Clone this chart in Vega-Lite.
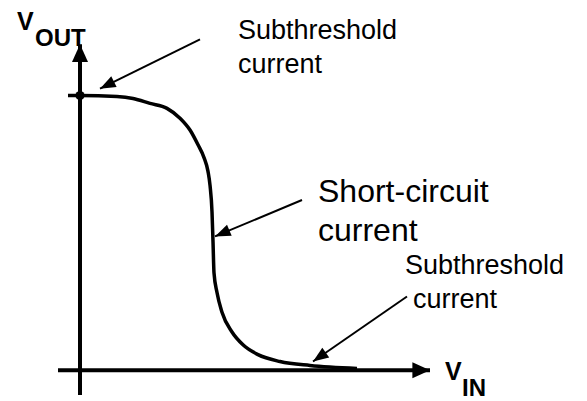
{
  "$schema": "https://vega.github.io/schema/vega-lite/v6.json",
  "width": 587,
  "height": 401,
  "autosize": {"type": "fit", "contains": "padding"},
  "padding": 0,
  "background": "white",
  "config": {"view": {"stroke": null}},
  "datasets": {
    "curve": [
      {"vin": -12, "vout": 279},
      {"vin": 0, "vout": 279},
      {"vin": 37, "vout": 278},
      {"vin": 53, "vout": 276},
      {"vin": 70, "vout": 271},
      {"vin": 87, "vout": 266},
      {"vin": 100, "vout": 256},
      {"vin": 110, "vout": 244},
      {"vin": 118, "vout": 229},
      {"vin": 124, "vout": 216},
      {"vin": 128, "vout": 202},
      {"vin": 130, "vout": 188},
      {"vin": 132, "vout": 161},
      {"vin": 133, "vout": 131},
      {"vin": 134, "vout": 99},
      {"vin": 137, "vout": 79},
      {"vin": 142, "vout": 59},
      {"vin": 152, "vout": 39},
      {"vin": 163, "vout": 26},
      {"vin": 178, "vout": 16},
      {"vin": 200, "vout": 9},
      {"vin": 230, "vout": 5},
      {"vin": 277, "vout": 2}
    ],
    "dot": [{"vin": 0, "vout": 279}],
    "arrows": [
      {"kind": "axis", "x": 0, "y": -25, "x2": 0, "y2": 331},
      {"kind": "axis", "x": -22, "y": 0, "x2": 350, "y2": 0},
      {"kind": "note", "x": 120, "y": 336, "x2": 20, "y2": 286},
      {"kind": "note", "x": 222, "y": 173, "x2": 135, "y2": 136},
      {"kind": "note", "x": 327, "y": 75, "x2": 233, "y2": 9}
    ],
    "labels": [
      {"role": "axis", "text": "V", "x": -63, "y": 346},
      {"role": "axissub", "text": "OUT", "x": -45, "y": 329},
      {"role": "axis", "text": "V", "x": 365, "y": -10},
      {"role": "axissub", "text": "IN", "x": 382, "y": -26},
      {"role": "note", "text": "Subthreshold", "x": 158, "y": 336},
      {"role": "note", "text": "current", "x": 158, "y": 302},
      {"role": "main", "text": "Short-circuit", "x": 238, "y": 171},
      {"role": "main", "text": "current", "x": 238, "y": 131},
      {"role": "note", "text": "Subthreshold", "x": 325, "y": 98},
      {"role": "note", "text": "current", "x": 333, "y": 63}
    ]
  },
  "encoding": {
    "x": {"field": "x", "type": "quantitative", "scale": {"domain": [-80, 507], "nice": false, "zero": false}, "axis": null},
    "y": {"field": "y", "type": "quantitative", "scale": {"domain": [-25, 376], "nice": false, "zero": false}, "axis": null}
  },
  "layer": [
    {
      "data": {"name": "arrows"},
      "transform": [{"filter": "datum.kind == 'axis'"}],
      "mark": {"type": "rule", "color": "black", "strokeWidth": 4},
      "encoding": {
        "x2": {"field": "x2"},
        "y2": {"field": "y2"}
      }
    },
    {
      "data": {"name": "arrows"},
      "transform": [{"filter": "datum.kind == 'note'"}],
      "mark": {"type": "rule", "color": "black", "strokeWidth": 2},
      "encoding": {
        "x2": {"field": "x2"},
        "y2": {"field": "y2"}
      }
    },
    {
      "data": {"name": "arrows"},
      "transform": [
        {"filter": "datum.kind == 'axis'"},
        {"calculate": "atan2(datum.x2 - datum.x, datum.y2 - datum.y) * 180 / PI", "as": "heading"}
      ],
      "mark": {"type": "point", "shape": "M0,0L-1,2.2L1,2.2Z", "filled": true, "color": "black", "opacity": 1, "strokeWidth": 0, "size": 256},
      "encoding": {
        "x": {"field": "x2", "type": "quantitative"},
        "y": {"field": "y2", "type": "quantitative"},
        "angle": {"field": "heading", "type": "quantitative", "scale": null}
      }
    },
    {
      "data": {"name": "arrows"},
      "transform": [
        {"filter": "datum.kind == 'note'"},
        {"calculate": "atan2(datum.x2 - datum.x, datum.y2 - datum.y) * 180 / PI", "as": "heading"}
      ],
      "mark": {"type": "point", "shape": "M0,0L-1,2.6L1,2.6Z", "filled": true, "color": "black", "opacity": 1, "strokeWidth": 0, "size": 144},
      "encoding": {
        "x": {"field": "x2", "type": "quantitative"},
        "y": {"field": "y2", "type": "quantitative"},
        "angle": {"field": "heading", "type": "quantitative", "scale": null}
      }
    },
    {
      "data": {"name": "curve"},
      "mark": {"type": "line", "color": "black", "strokeWidth": 3.5, "interpolate": "monotone", "strokeJoin": "round"},
      "encoding": {
        "x": {"field": "vin", "type": "quantitative"},
        "y": {"field": "vout", "type": "quantitative"},
        "order": {"value": null}
      }
    },
    {
      "data": {"name": "dot"},
      "mark": {"type": "point", "shape": "circle", "filled": true, "color": "black", "opacity": 1, "size": 85},
      "encoding": {
        "x": {"field": "vin", "type": "quantitative"},
        "y": {"field": "vout", "type": "quantitative"}
      }
    },
    {
      "data": {"name": "labels"},
      "transform": [{"filter": "datum.role == 'axis'"}],
      "mark": {"type": "text", "align": "left", "baseline": "alphabetic", "font": "Liberation Sans", "fontWeight": "bold", "fontSize": 25, "color": "black"},
      "encoding": {"text": {"field": "text"}}
    },
    {
      "data": {"name": "labels"},
      "transform": [{"filter": "datum.role == 'axissub'"}],
      "mark": {"type": "text", "align": "left", "baseline": "alphabetic", "font": "Liberation Sans", "fontWeight": "bold", "fontSize": 24, "color": "black"},
      "encoding": {"text": {"field": "text"}}
    },
    {
      "data": {"name": "labels"},
      "transform": [{"filter": "datum.role == 'note'"}],
      "mark": {"type": "text", "align": "left", "baseline": "alphabetic", "font": "Liberation Sans", "fontSize": 27, "color": "black"},
      "encoding": {"text": {"field": "text"}}
    },
    {
      "data": {"name": "labels"},
      "transform": [{"filter": "datum.role == 'main'"}],
      "mark": {"type": "text", "align": "left", "baseline": "alphabetic", "font": "Liberation Sans", "fontSize": 32, "color": "black"},
      "encoding": {"text": {"field": "text"}}
    }
  ]
}
